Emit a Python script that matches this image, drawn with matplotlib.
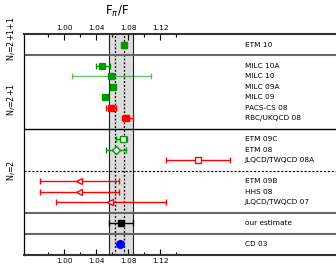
import numpy as np
import matplotlib
matplotlib.use("Agg")
import matplotlib.pyplot as plt

# collaborations, from top to bottom
labels = ["ETM 10",
          "MILC 10A", "MILC 10", "MILC 09A", "MILC 09", "PACS-CS 08", "RBC/UKQCD 08",
          "ETM 09C", "ETM 08", "JLQCD/TWQCD 08A",
          "ETM 09B", "HHS 08", "JLQCD/TWQCD 07",
          "our estimate",
          "CD 03"]
rows = [1, 3, 4, 5, 6, 7, 8, 10, 11, 12, 14, 15, 16, 18, 20]
values = [1.075, 1.048, 1.059, 1.061, 1.051, 1.059, 1.078,
          1.074, 1.0655, 1.167, 1.019, 1.019, 1.0575, 1.071, 1.070]
err_lo = [1.073, 1.040, 1.0095, 1.059, 1.049, 1.0525, 1.072,
          1.065, 1.053, 1.128, 0.970, 0.970, 0.9895, 1.0567, 1.066]
err_hi = [1.077, 1.058, 1.109, 1.063, 1.053, 1.065, 1.086,
          1.079, 1.078, 1.207, 1.069, 1.069, 1.1275, 1.0867, 1.074]
colors = ["#009900", "#009900", "#009900", "#009900", "#009900", "#ff0000", "#ff0000",
          "#009900", "#009900", "#ff0000", "#ff0000", "#ff0000", "#ff0000", "black", "#0000ff"]
markers = ["s", "s", "s", "s", "s", "s", "s", "s", "D", "s", "<", "<", "<", "s", "o"]
filled = [True] * 7 + [False] * 6 + [True, True]

band = (1.0567, 1.0867)
dotted = [1.064, 1.075]
groups = ["N$_f$=2+1+1", "N$_f$=2+1", "N$_f$=2"]
group_y = [0.4, 6.2, 13.0]

fig = plt.figure(figsize=(3.36, 2.65), dpi=100)
ax = fig.add_axes([24 / 336, 10 / 265, 1 - 24 / 336, 221 / 265])
ax.set_xlim(0.95, 1.34)
ax.set_ylim(21, 0)

ax.axvspan(band[0], band[1], color="#dcdcdc", zorder=0)
ax.axvline(band[0], color="#222222", lw=0.8, zorder=1)
ax.axvline(band[1], color="#222222", lw=0.8, zorder=1)
for d in dotted:
    ax.axvline(d, color="black", lw=0.9, ls=(0, (1.5, 1.5)), zorder=1)

# group separators
for y, c, lw in [(2, "#666666", 1.5), (9, "black", 1.0), (17, "#666666", 1.5), (19, "#666666", 1.5)]:
    ax.axhline(y, color=c, lw=lw, zorder=1)
ax.axhline(13, color="black", lw=0.8, ls=(0, (2, 1.5)), zorder=1)

for i in range(len(labels)):
    ecol = colors[i]
    alpha = 0.6 if labels[i] == "MILC 10" else 1.0
    ax.errorbar(values[i], rows[i],
                xerr=[[values[i] - err_lo[i]], [err_hi[i] - values[i]]],
                fmt="none", ecolor=ecol, elinewidth=1.0, capsize=2.5, capthick=1.0,
                alpha=alpha, zorder=3)
    ms = 5 if markers[i] != "D" else 4.5
    if markers[i] == "o":
        ms = 5.5
    ax.plot(values[i], rows[i], marker=markers[i], ms=ms, ls="none",
            mfc=colors[i] if filled[i] else "white", mec=colors[i], mew=1.0, zorder=4)
    ax.text(1.226, rows[i], labels[i], fontsize=5.3, va="center", ha="left")

for g, y in zip(groups, group_y):
    ax.text(-0.04, y, g, transform=ax.get_yaxis_transform(), rotation=90,
            fontsize=5.8, ha="center", va="center")

ax.set_xticks([1.00, 1.04, 1.08, 1.12])
ax.set_xticks([0.98, 1.02, 1.06, 1.10, 1.14], minor=True)
ax.set_xticklabels(["1.00", "1.04", "1.08", "1.12"])
ax.tick_params(axis="x", which="both", direction="in", top=True, bottom=True,
               labeltop=True, labelbottom=True, labelsize=5.3, pad=2)
ax.tick_params(axis="x", which="major", length=4, width=0.8)
ax.tick_params(axis="x", which="minor", length=2.5, width=0.8)
ax.set_yticks([])
ax.spines["right"].set_visible(False)
ax.spines["top"].set_color("#333333")
ax.spines["top"].set_linewidth(1.5)
ax.spines["bottom"].set_linewidth(1.5)
ax.spines["bottom"].set_color("#333333")
ax.spines["left"].set_linewidth(0.9)

ax.text(1.066, -1.45, r"F$_\pi$/F", fontsize=8.5, ha="center", va="bottom")

fig.savefig("out.png", dpi=100)
